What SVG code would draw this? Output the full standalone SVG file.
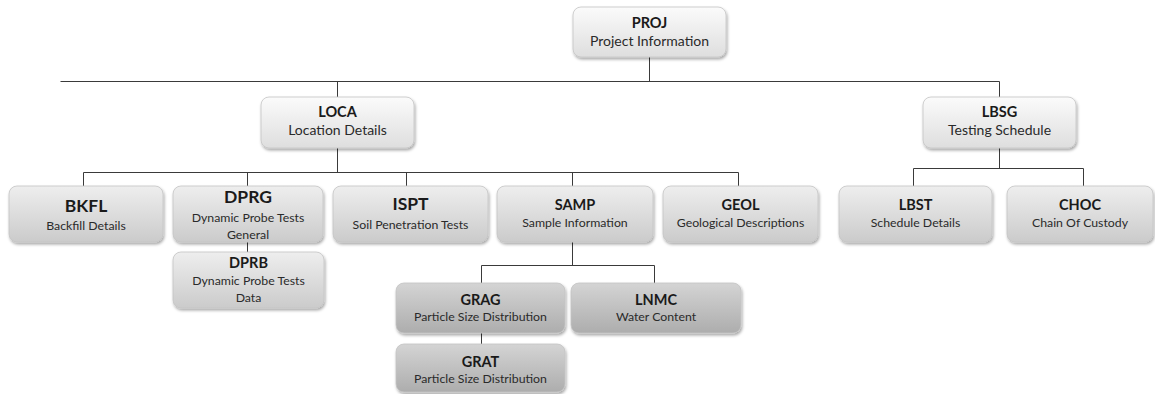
<svg xmlns="http://www.w3.org/2000/svg" width="1155" height="394" viewBox="0 0 1155 394">
<defs>
<linearGradient id="gTop" x1="0" y1="0" x2="0" y2="1">
<stop offset="0" stop-color="#fbfbfb"/><stop offset="1" stop-color="#dedede"/>
</linearGradient>
<linearGradient id="gMid" x1="0" y1="0" x2="0" y2="1">
<stop offset="0" stop-color="#eeeeee"/><stop offset="1" stop-color="#cbcbcb"/>
</linearGradient>
<linearGradient id="gLow" x1="0" y1="0" x2="0" y2="1">
<stop offset="0" stop-color="#d4d4d4"/><stop offset="1" stop-color="#adadad"/>
</linearGradient>
<filter id="sh" x="-10%" y="-20%" width="125%" height="150%">
<feDropShadow dx="1" dy="2" stdDeviation="1.5" flood-color="#000" flood-opacity="0.35"/>
</filter>
</defs>
<style>
.box{stroke:#c4c4c4;stroke-width:0.8;filter:url(#sh)}
.top{fill:url(#gTop)}
.mid{fill:url(#gMid)}
.low{fill:url(#gLow)}
text{font-family:Lato,"Open Sans",sans-serif;fill:#1a1a1a;text-anchor:middle}
.t{font-weight:bold;font-size:14.5px}
.tb{font-weight:bold;font-size:17.5px}
.s{font-size:14px;fill:#2a2a2a}
.ss{font-size:12.3px;fill:#2a2a2a}
.conn path{fill:none;stroke:#3a3a3a;stroke-width:1}
</style>
<g id="connectors" class="conn">
<path d="M649.5 57V81.5M60.5 81.5H999.5M337.5 81.5V97M999.5 81.5V97"/>
<path d="M337.5 148V172.5M83.5 172.5H738.5M83.5 172.5V186M247.5 172.5V186M406.5 172.5V186M572.5 172.5V186M738.5 172.5V186"/>
<path d="M999.5 148V168.5M913.5 168.5H1083.5M913.5 168.5V186M1083.5 168.5V186"/>
<path d="M247.5 242V252"/>
<path d="M572.5 242V265.5M481.5 265.5H654.5M481.5 265.5V283M654.5 265.5V283"/>
<path d="M481.5 333V344"/>
</g>
<g id="PROJ"><rect class="box top" x="573" y="7" width="153" height="50" rx="8"/><text class="t" x="649.5" y="28">PROJ</text><text class="s" x="649.5" y="46">Project Information</text></g>
<g id="LOCA"><rect class="box top" x="261" y="97" width="153" height="51" rx="8"/><text class="t" x="337.5" y="117">LOCA</text><text class="s" x="337.5" y="135">Location Details</text></g>
<g id="LBSG"><rect class="box top" x="923" y="97" width="153" height="51" rx="8"/><text class="t" x="999.5" y="117">LBSG</text><text class="s" x="999.5" y="135">Testing Schedule</text></g>
<g id="BKFL"><rect class="box mid" x="9" y="186" width="154" height="56" rx="8"/><text class="tb" x="86" y="212">BKFL</text><text class="ss" x="86" y="230">Backfill Details</text></g>
<g id="DPRG"><rect class="box mid" x="173" y="186" width="150" height="56" rx="8"/><text class="tb" x="248" y="203">DPRG</text><text class="ss" x="248" y="222">Dynamic Probe Tests</text><text class="ss" x="248" y="239">General</text></g>
<g id="ISPT"><rect class="box mid" x="333" y="186" width="155" height="56" rx="8"/><text class="tb" x="410.5" y="210">ISPT</text><text class="ss" x="410.5" y="229">Soil Penetration Tests</text></g>
<g id="SAMP"><rect class="box mid" x="497" y="186" width="156" height="56" rx="8"/><text class="t" x="575" y="210">SAMP</text><text class="ss" x="575" y="227">Sample Information</text></g>
<g id="GEOL"><rect class="box mid" x="663" y="186" width="155" height="56" rx="8"/><text class="t" x="740.5" y="210">GEOL</text><text class="ss" x="740.5" y="227">Geological Descriptions</text></g>
<g id="LBST"><rect class="box mid" x="839" y="186" width="153" height="56" rx="8"/><text class="t" x="915.5" y="210">LBST</text><text class="ss" x="915.5" y="227">Schedule Details</text></g>
<g id="CHOC"><rect class="box mid" x="1007" y="186" width="146" height="56" rx="8"/><text class="t" x="1080" y="210">CHOC</text><text class="ss" x="1080" y="227">Chain Of Custody</text></g>
<g id="DPRB"><rect class="box mid" x="173" y="252" width="151" height="56" rx="8"/><text class="t" x="248.5" y="268">DPRB</text><text class="ss" x="248.5" y="285">Dynamic Probe Tests</text><text class="ss" x="248.5" y="302">Data</text></g>
<g id="GRAG"><rect class="box low" x="396" y="283" width="169" height="50" rx="8"/><text class="t" x="480.5" y="305">GRAG</text><text class="ss" x="480.5" y="321">Particle Size Distribution</text></g>
<g id="LNMC"><rect class="box low" x="571" y="283" width="170" height="50" rx="8"/><text class="t" x="656" y="305">LNMC</text><text class="ss" x="656" y="321">Water Content</text></g>
<g id="GRAT"><rect class="box low" x="396" y="344" width="169" height="48" rx="8"/><text class="t" x="480.5" y="367">GRAT</text><text class="ss" x="480.5" y="383">Particle Size Distribution</text></g>
</svg>
